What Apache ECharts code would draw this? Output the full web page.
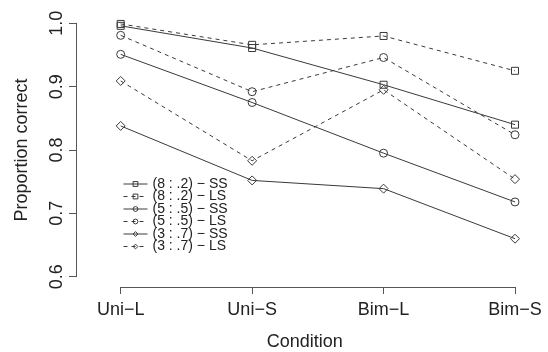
<!DOCTYPE html>
<html>
<head>
<meta charset="utf-8">
<script src="https://cdn.jsdelivr.net/npm/echarts@6/dist/echarts.min.js"></script>
<style>
html,body{margin:0;padding:0;background:#fff;}
#chart{width:548px;height:352px;}
</style>
</head>
<body>
<div id="chart"></div>
<script>
const categories = ['Uni\u2212L', 'Uni\u2212S', 'Bim\u2212L', 'Bim\u2212S'];
const yTicks = [0.6, 0.7, 0.8, 0.9, 1.0];
const names = ['(8 : .2) \u2212 SS', '(8 : .2) \u2212 LS', '(5 : .5) \u2212 SS', '(5 : .5) \u2212 LS', '(3 : .7) \u2212 SS', '(3 : .7) \u2212 LS'];
const r82SS = [0.996, 0.961, 0.903, 0.840];
const r82LS = [0.999, 0.966, 0.980, 0.925];
const r55SS = [0.951, 0.875, 0.795, 0.718];
const r55LS = [0.981, 0.892, 0.946, 0.824];
const r37SS = [0.838, 0.752, 0.739, 0.660];
const r37LS = [0.909, 0.783, 0.895, 0.754];

const dataList = [r82SS, r82LS, r55SS, r55LS, r37SS, r37LS];
const symbols = ['rect', 'rect', 'circle', 'circle', 'diamond', 'diamond'];
const symSizes = [7, 7, 8, 8, 9, 9];
const dashed = [false, true, false, true, false, true];
const ink = '#3a3a3a';
const font = 'Liberation Sans, Arial, Helvetica, sans-serif';

const series = dataList.map((d, i) => ({
  name: names[i],
  type: 'line',
  data: d,
  symbol: symbols[i],
  symbolSize: symSizes[i],
  showAllSymbol: true,
  clip: false,
  lineStyle: { color: ink, width: 1, type: dashed[i] ? [4, 4] : 'solid' },
  itemStyle: { color: 'rgba(0,0,0,0)', borderColor: ink, borderWidth: 1 },
  emphasis: { disabled: true },
  animation: false
}));

const chart = echarts.init(document.getElementById('chart'), null, { renderer: 'canvas' });
chart.setOption({
  backgroundColor: '#fff',
  animation: false,
  textStyle: { fontFamily: font },
  grid: { left: 120.7, right: 33, top: 23.3, bottom: 75.3, containLabel: false, outerBoundsMode: 'none' },
  legend: {
    orient: 'vertical',
    left: 123,
    top: 177,
    itemWidth: 24,
    itemHeight: 6,
    itemGap: -1.5,
    padding: 0,
    selectedMode: false,
    data: names,
    itemStyle: { borderWidth: 1 },
    lineStyle: { width: 1 },
    textStyle: { fontSize: 14, color: '#222', fontFamily: font }
  },
  xAxis: {
    type: 'category',
    data: categories,
    boundaryGap: false,
    offset: 10.3,
    axisLine: { show: true, lineStyle: { color: '#555', width: 1 } },
    axisTick: { show: true, length: 7, alignWithLabel: true, lineStyle: { color: '#555' } },
    axisLabel: { margin: 14, fontSize: 18, color: '#222', fontFamily: font, interval: 0 },
    splitLine: { show: false },
    name: 'Condition',
    nameLocation: 'middle',
    nameGap: 46,
    nameTextStyle: { fontSize: 18, color: '#222', fontFamily: font, padding: [0, 26, 0, 0] }
  },
  yAxis: {
    type: 'value',
    min: yTicks[0],
    max: yTicks[yTicks.length - 1],
    interval: 0.1,
    offset: 44.7,
    axisLine: { show: true, lineStyle: { color: '#555', width: 1 } },
    axisTick: { show: true, length: 7, lineStyle: { color: '#555' } },
    axisLabel: { rotate: 90, margin: 10, fontSize: 18, color: '#222', fontFamily: font,
      formatter: v => v.toFixed(1) },
    splitLine: { show: false },
    name: 'Proportion correct',
    nameLocation: 'middle',
    nameGap: 45,
    nameRotate: 90,
    nameTextStyle: { fontSize: 18, color: '#222', fontFamily: font }
  },
  series: series
});
</script>
</body>
</html>
